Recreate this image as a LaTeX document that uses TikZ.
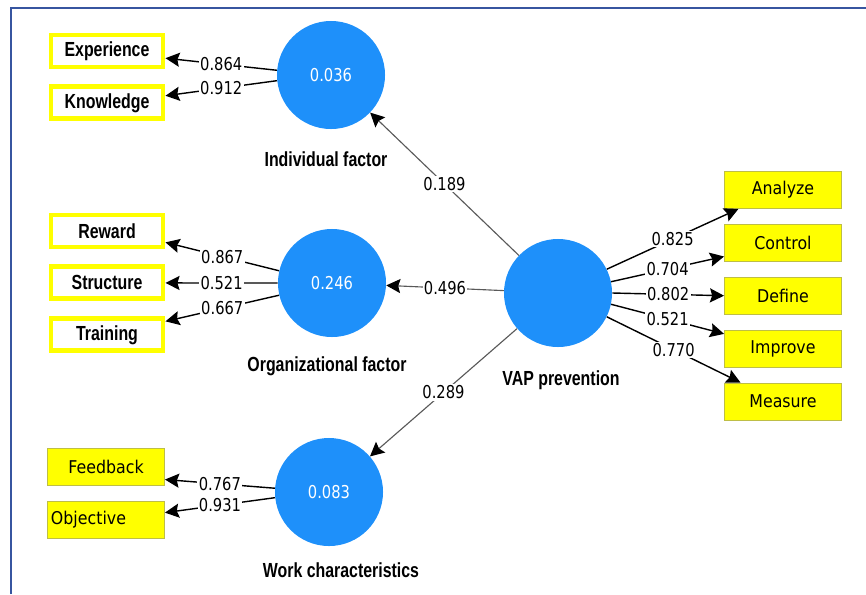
\documentclass[tikz,border=0pt]{standalone}
\usepackage{fontspec}
\usepackage{xcolor}
\usetikzlibrary{arrows.meta,positioning}
\newfontfamily\lblfont[FakeStretch=0.78]{Liberation Sans}
\newfontfamily\numfont[FakeStretch=0.83]{DejaVu Sans}
\newfontfamily\boxfont[FakeStretch=0.9]{DejaVu Sans}
\definecolor{lvblue}{RGB}{30,144,250}
\definecolor{boxyellow}{RGB}{255,255,0}
\definecolor{boxedge}{RGB}{190,190,70}
\definecolor{frameblue}{RGB}{55,85,160}

\begin{document}
\begin{tikzpicture}[x=0.025cm, y=-0.025cm, node distance=0.375cm,
    latent/.style={circle, fill=lvblue, minimum size=2.7cm, inner sep=0, text=white, font=\numfont\fontsize{12.6}{14}\selectfont},
    itembox/.style={rectangle, draw=boxyellow, line width=3.5pt, fill=white, minimum width=2.8cm, minimum height=0.8cm, inner sep=0, font=\lblfont\bfseries\fontsize{14.5}{16}\selectfont},
    itemfill/.style={rectangle, draw=boxedge, line width=0.6pt, fill=boxyellow, minimum width=2.925cm, minimum height=0.925cm, inner sep=0, font=\boxfont\fontsize{12.5}{14}\selectfont},
    cname/.style={inner sep=0, anchor=north, font=\lblfont\bfseries\fontsize{14.5}{16}\selectfont},
    coef/.style={fill=white, inner sep=1pt, font=\numfont\fontsize{12.6}{14}\selectfont},
    arrow/.style={-{Stealth[length=10pt,width=10pt,inset=1.5pt]}, line width=1pt},
    path/.style={-{Stealth[length=10pt,width=10pt,inset=1.5pt,color=black]}, draw=black!65, line width=0.8pt}]

    \useasboundingbox (0,0) rectangle (866,594);
    \draw[frameblue, line width=2pt] (11,594) -- (11,8) -- (866,8);

    % latent variables
    \node[latent] (ind) at (331,75) {0.036};
    \node[latent] (org) at (332,283) {0.246};
    \node[latent] (work) at (329,492) {0.083};
    \node[latent] (vap) at (558,293) {};

    \node[cname, below=0.56cm of ind, xshift=-0.125cm] (indname) {Individual factor};
    \node[cname, below=0.47cm of org, xshift=-0.125cm] (orgname) {Organizational factor};
    \node[cname, below=0.4cm of work, xshift=0.3cm] (workname) {Work characteristics};
    \node[cname, below=0.575cm of vap, xshift=0.075cm] (vapname) {VAP prevention};

    % indicators
    \node[itembox] (exp) at (107,51) {Experience};
    \node[itembox, below=of exp] (know) {Knowledge};
    \node[itembox] (rew) at (107,231) {Reward};
    \node[itembox, below=of rew] (struc) {Structure};
    \node[itembox, below=of struc] (train) {Training};
    \node[itemfill] (feed) at (106,467) {Feedback};
    \node[itemfill, below=of feed, text width=2.75cm, align=left] (obj) {Objective};

    \node[itemfill] (ana) at (783,190) {Analyze};
    \node[itemfill, below=of ana] (con) {Control};
    \node[itemfill, below=of con] (def) {Define};
    \node[itemfill, below=of def] (imp) {Improve};
    \node[itemfill, below=of imp] (mea) {Measure};

    % loadings
    \draw[arrow] (ind.175) -- node[coef]{0.864} (exp.-7);
    \draw[arrow] (ind.186) -- node[coef]{0.912} (know.7);
    \draw[arrow] (org.167) -- node[coef]{0.867} (rew.-11);
    \draw[arrow] (org.180) -- node[coef]{0.521} (struc.east);
    \draw[arrow] (org.193) -- node[coef]{0.667} (train.13);
    \draw[arrow] (work.176) -- node[coef]{0.767} (feed.-12);
    \draw[arrow] (work.186) -- node[coef]{0.931} (obj.7);

    \draw[arrow] (vap.26) -- node[coef]{0.825} (ana.203);
    \draw[arrow] (vap.12) -- node[coef]{0.704} (con.193);
    \draw[arrow] (vap.0) -- node[coef]{0.802} (def.west);
    \draw[arrow] (vap.-12) -- node[coef]{0.521} (imp.166);
    \draw[arrow] (vap.-26) -- node[coef]{0.770} (mea.156);

    % path coefficients
    \draw[path] (vap) -- node[coef]{0.189} (ind);
    \draw[path] (vap) -- node[coef]{0.496} (org);
    \draw[path] (vap) -- node[coef]{0.289} (work);
\end{tikzpicture}
\end{document}
